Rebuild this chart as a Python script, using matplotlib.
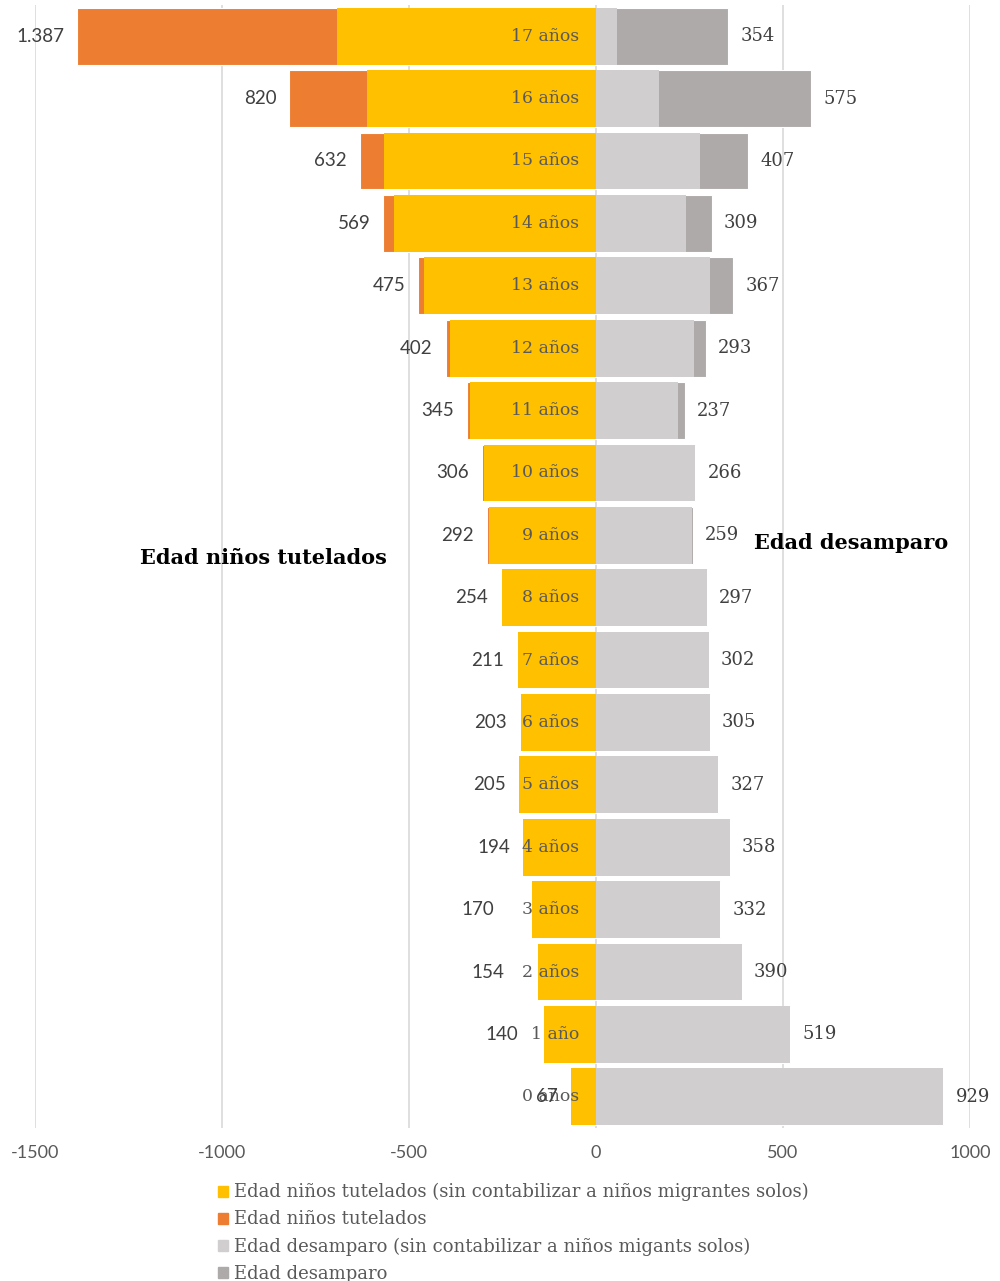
import matplotlib
matplotlib.use("Agg")
import matplotlib.pyplot as plt
from matplotlib.patches import Patch
import numpy as np

categories = ["17 años", "16 años", "15 años", "14 años", "13 años", "12 años",
              "11 años", "10 años", "9 años", "8 años", "7 años", "6 años",
              "5 años", "4 años", "3 años", "2 años", "1 año", "0 años"]
tutelados_total = [1387, 820, 632, 569, 475, 402, 345, 306, 292, 254, 211, 203,
                   205, 194, 170, 154, 140, 67]
tutelados_sin = [692, 612, 566, 541, 461, 390, 338, 300, 286, 251, 209, 200,
                 205, 194, 170, 154, 140, 67]
desamparo_total = [354, 575, 407, 309, 367, 293, 237, 266, 259, 297, 302, 305,
                   327, 358, 332, 390, 519, 929]
desamparo_sin = [56, 168, 278, 241, 306, 261, 219, 264, 257, 296, 301, 305,
                 327, 358, 332, 390, 519, 929]
xticks = [-1500, -1000, -500, 0, 500, 1000]
legend_labels = ["Edad niños tutelados (sin contabilizar a niños migrantes solos)",
                 "Edad niños tutelados",
                 "Edad desamparo (sin contabilizar a niños migants solos)",
                 "Edad desamparo"]
# extra label shift (in pixels) used by the original to avoid collisions
left_label_shift = [0, 0, 0, 0, 0, 0, 0, 0, 0, 0, 0, 0, 0, 0, 25, 21, 12, 0]

c_yellow = "#FFC000"
c_orange = "#ED7D31"
c_lgray = "#D0CECE"
c_dgray = "#AEAAAA"
txt = "#595959"

fig = plt.figure(figsize=(10, 12.81), dpi=100)
ax = fig.add_axes([0.035, 1 - 1128 / 1281, 0.935, (1128 - 5) / 1281])

n = len(categories)
y = np.arange(n)
h = 0.91
tt = np.array(tutelados_total)
ts = np.array(tutelados_sin)
dt = np.array(desamparo_total)
ds = np.array(desamparo_sin)

ax.barh(y, -tt, height=h, color=c_orange, edgecolor="white", linewidth=0.8, zorder=2)
ax.barh(y, -ts, height=h, color=c_yellow, edgecolor="none", zorder=3)
ax.barh(y, dt, height=h, color=c_dgray, edgecolor="white", linewidth=0.8, zorder=2)
ax.barh(y, ds, height=h, color=c_lgray, edgecolor="none", zorder=3)

ax.set_xlim(-1500, 1000)
ax.set_ylim(n - 0.5, -0.5)
ax.set_xticks(xticks)
ax.set_xticklabels([str(v) for v in xticks], fontfamily="Lato", fontsize=13, color=txt)
ax.tick_params(axis="x", length=0, pad=12)
ax.set_yticks([])
for s in ax.spines.values():
    s.set_visible(False)
ax.grid(axis="x", color="#D9D9D9", linewidth=1.2, zorder=0)
ax.set_axisbelow(True)

px = 2500 / 935.0  # data units per pixel
for i in range(n):
    ax.text(-45, y[i], categories[i], ha="right", va="center", fontsize=12.4,
            fontfamily="DejaVu Serif", color=txt, zorder=5)
    ax.text(-tt[i] - 13 * px - left_label_shift[i] * px, y[i],
            f"{tt[i]:,}".replace(",", "."), ha="right", va="center",
            fontsize=13.5, fontfamily="Lato", color="#404040", zorder=5)
    ax.text(dt[i] + 12 * px, y[i], str(dt[i]), ha="left", va="center", fontsize=13,
            fontfamily="DejaVu Serif", color="#404040", zorder=5)

fig.text(0.263, 1 - 558 / 1281, "Edad niños tutelados", ha="center", va="center",
         fontsize=15, fontweight="bold", fontfamily="DejaVu Serif", color="black")
fig.text(0.851, 1 - 543 / 1281, "Edad desamparo", ha="center", va="center",
         fontsize=15, fontweight="bold", fontfamily="DejaVu Serif", color="black")

handles = [Patch(color=c) for c in [c_yellow, c_orange, c_lgray, c_dgray]]
leg = fig.legend(handles, legend_labels, loc="upper left",
                 bbox_to_anchor=(0.211, 1 - 1176 / 1281), frameon=False,
                 handlelength=0.55, handleheight=0.55, handletextpad=0.35,
                 labelspacing=0.5, borderaxespad=0,
                 prop={"family": "DejaVu Serif", "size": 13})
for t in leg.get_texts():
    t.set_color(txt)

fig.savefig("out.png", dpi=100)
